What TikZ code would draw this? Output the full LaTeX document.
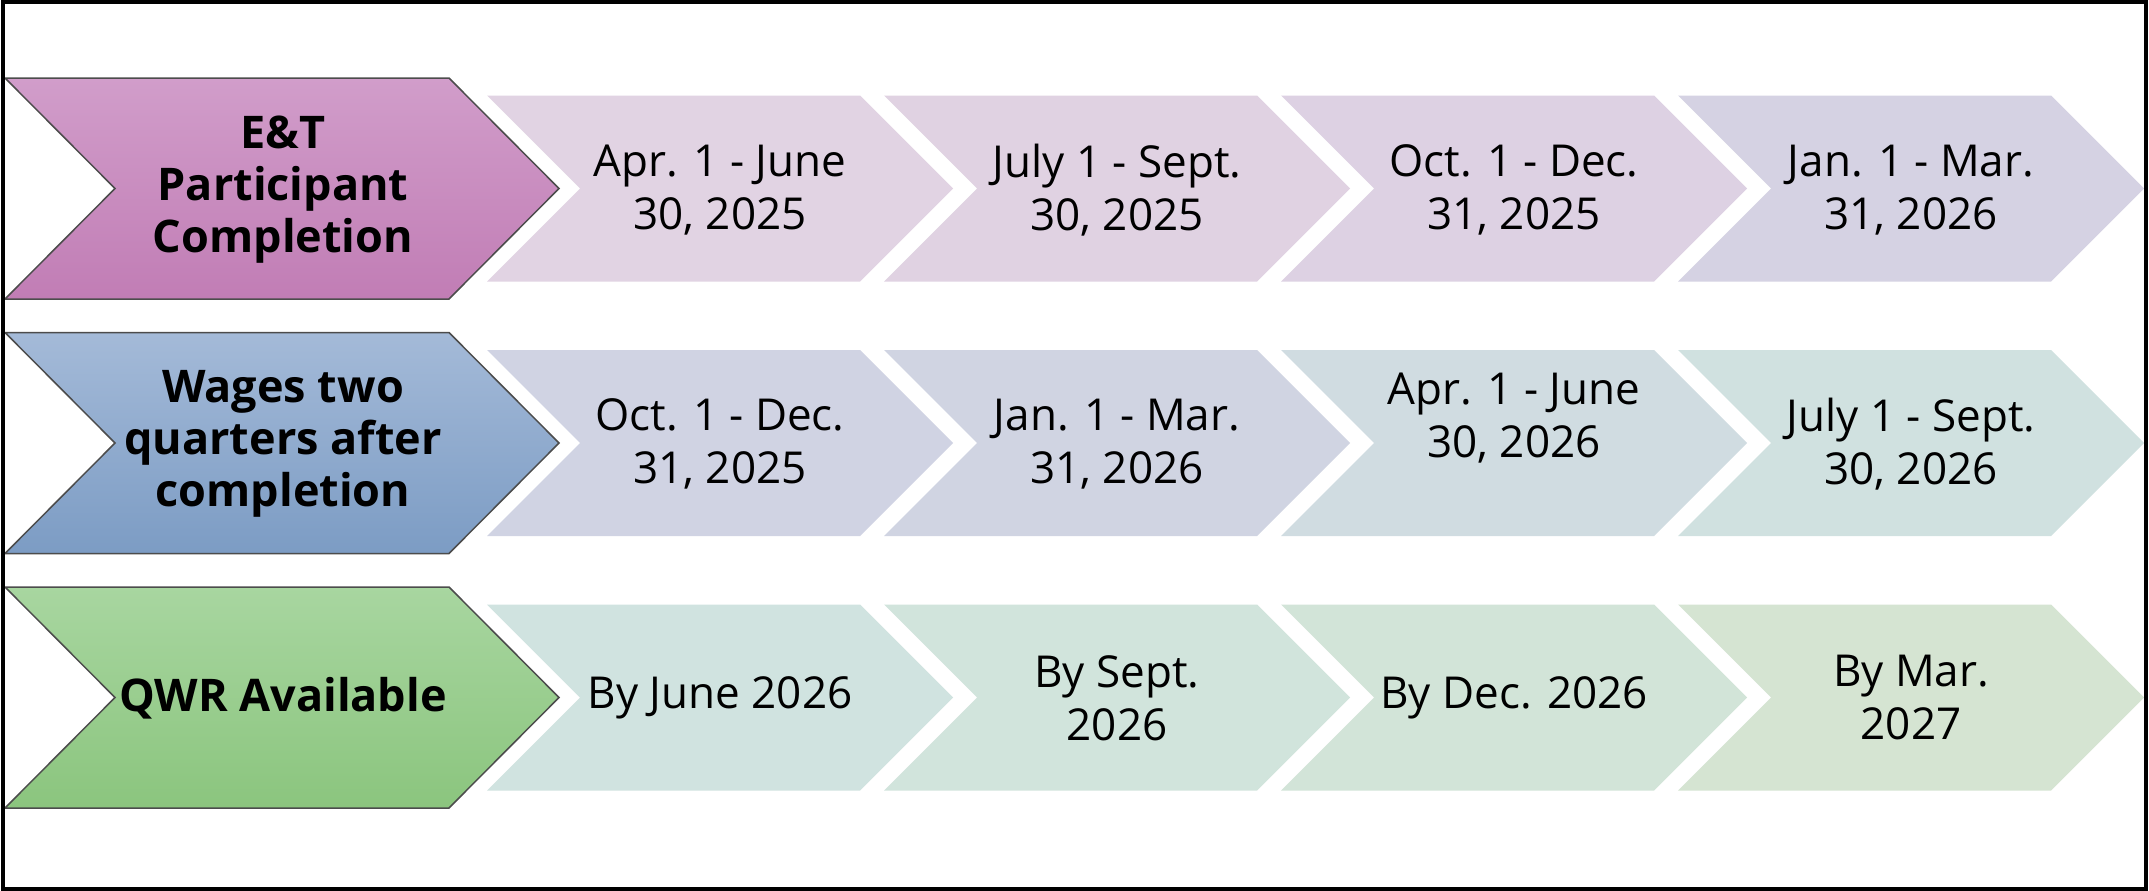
\documentclass[tikz,border=0pt]{standalone}
\usepackage{fontspec}
\setmainfont{Open Sans}
\usetikzlibrary{calc}
\definecolor{pA}{HTML}{D19DCA}\definecolor{pB}{HTML}{C17DB5}
\definecolor{bA}{HTML}{A4BAD8}\definecolor{bB}{HTML}{7C9CC4}
\definecolor{gA}{HTML}{A8D6A0}\definecolor{gB}{HTML}{8BC57E}
\definecolor{c11}{HTML}{E1D3E3}\definecolor{c12}{HTML}{E0D2E2}\definecolor{c13}{HTML}{DDD1E3}\definecolor{c14}{HTML}{D5D2E3}
\definecolor{c21}{HTML}{D0D3E3}\definecolor{c22}{HTML}{D0D4E2}\definecolor{c23}{HTML}{D0DCE1}\definecolor{c24}{HTML}{D0E1E0}
\definecolor{c31}{HTML}{D0E3E0}\definecolor{c32}{HTML}{D1E4DC}\definecolor{c33}{HTML}{D2E4D8}\definecolor{c34}{HTML}{D5E4D2}
\tikzset{
  lbl/.style={align=center,font=\fontsize{45}{52}\selectfont\bfseries,inner sep=0pt},
  dat/.style={align=center,font=\fontsize{44}{53}\selectfont,inner sep=0pt},
  bigedge/.style={draw=black!70,line width=1.5pt},
}
\newcommand{\bigchev}[3]{% mid y, top color, bottom color
  \path[bigedge,top color=#2,bottom color=#3]
    (5,#1-110.5) -- (449,#1-110.5) -- (559,#1) -- (449,#1+110.5) -- (5,#1+110.5) -- (115,#1) -- cycle;}
\newcommand{\smallchev}[3]{% left x, mid y, colour
  \fill[#3] (#1,#2-93) -- ({#1+373},#2-93) -- ({#1+466},#2) -- ({#1+373},#2+93) -- (#1,#2+93) -- ({#1+93},#2) -- cycle;}
\begin{document}
\begin{tikzpicture}[x=1pt,y=-1pt]
\useasboundingbox (0,0) rectangle (2149,891);
\fill[white] (0,0) rectangle (2149,891);
% row 1
\bigchev{188.5}{pA}{pB}
\smallchev{487}{188.5}{c11}\smallchev{884}{188.5}{c12}\smallchev{1281}{188.5}{c13}\smallchev{1678}{188.5}{c14}
% row 2
\bigchev{443}{bA}{bB}
\smallchev{487}{443}{c21}\smallchev{884}{443}{c22}\smallchev{1281}{443}{c23}\smallchev{1678}{443}{c24}
% row 3
\bigchev{697.5}{gA}{gB}
\smallchev{487}{697.5}{c31}\smallchev{884}{697.5}{c32}\smallchev{1281}{697.5}{c33}\smallchev{1678}{697.5}{c34}
% labels
\node[lbl] (l1) at (283,190) {E\&T\\Participant\\Completion};
\node[lbl] (l2) at (283,444) {Wages two\\quarters after\\completion};
\node[lbl] (l3) at (283,698) {QWR Available};
\node[dat] (d11) at (720,190) {Apr. 1 - June\\30, 2025};
\node[dat] (d12) at (1117,190) {July 1 - Sept.\\30, 2025};
\node[dat] (d13) at (1514,190) {Oct. 1 - Dec.\\31, 2025};
\node[dat] (d14) at (1911,190) {Jan. 1 - Mar.\\31, 2026};
\node[dat] (d21) at (720,444) {Oct. 1 - Dec.\\31, 2025};
\node[dat] (d22) at (1117,444) {Jan. 1 - Mar.\\31, 2026};
\node[dat] (d23) at (1514,418) {Apr. 1 - June\\30, 2026};
\node[dat] (d24) at (1911,444) {July 1 - Sept.\\30, 2026};
\node[dat] (d31) at (720,698) {By June 2026};
\node[dat] (d32) at (1117,698) {By Sept.\\2026};
\node[dat] (d33) at (1514,698) {By Dec. 2026};
\node[dat] (d34) at (1911,698) {By Mar.\\2027};
% frame
\draw[line width=3.5pt] (3,2) rectangle (2146,889);
\end{tikzpicture}
\end{document}
